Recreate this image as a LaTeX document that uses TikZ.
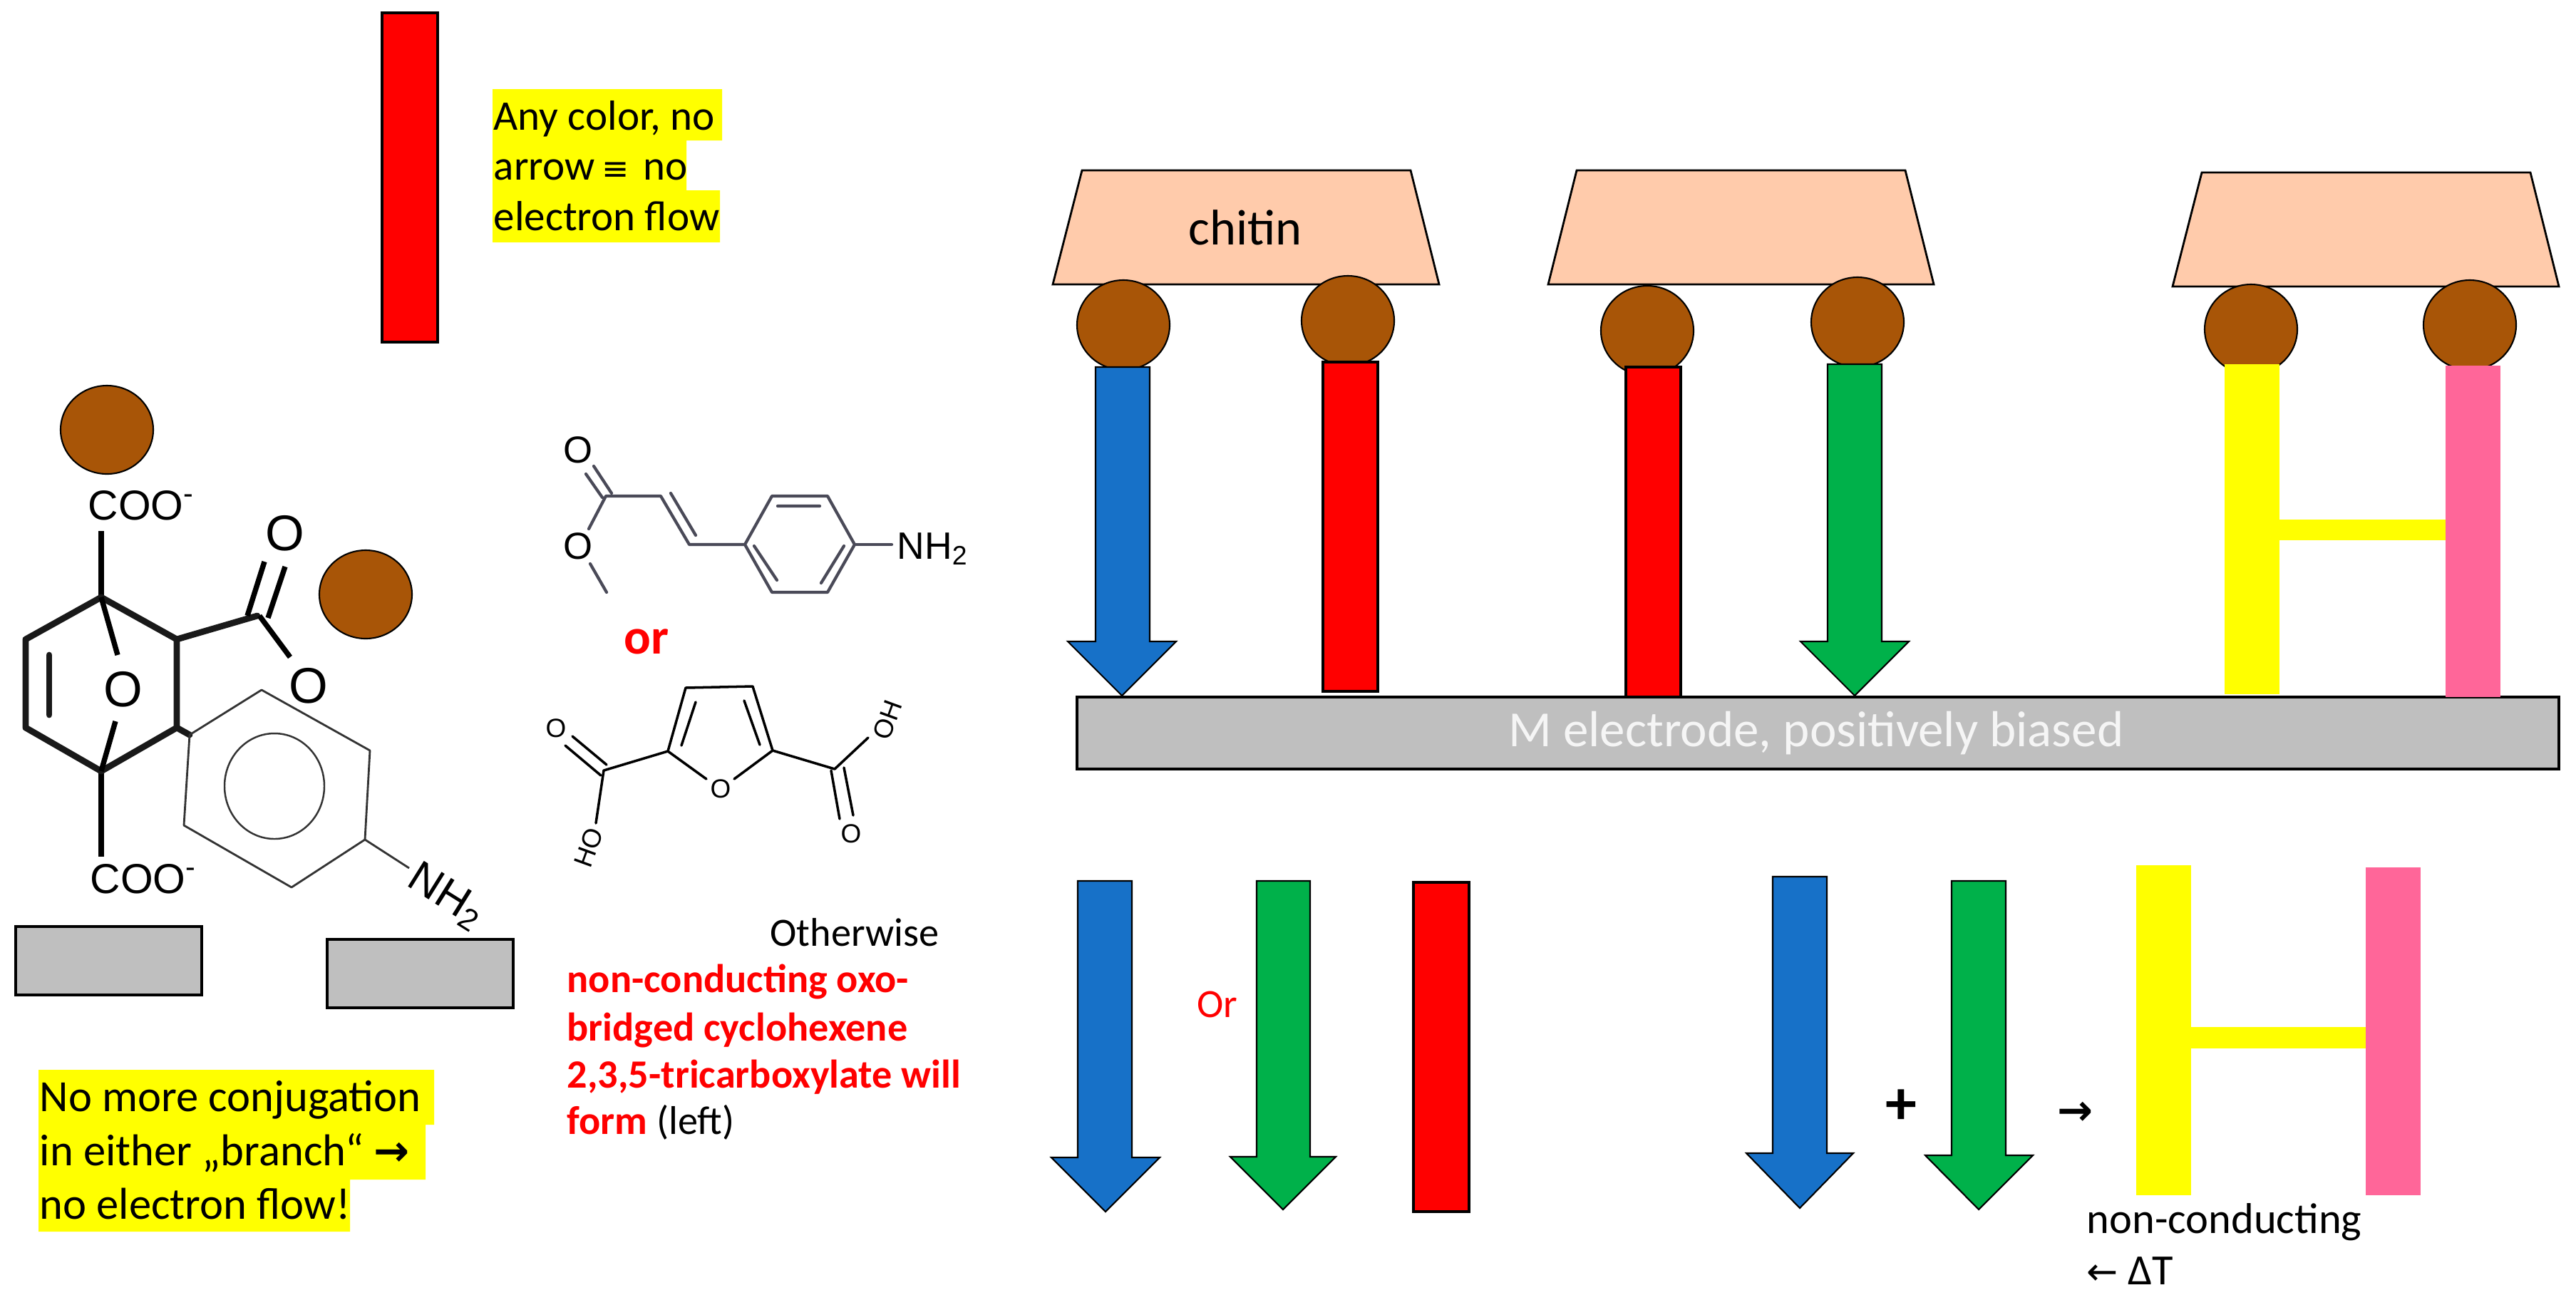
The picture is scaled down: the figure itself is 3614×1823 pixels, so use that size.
\documentclass[tikz,border=0pt]{standalone}
\usepackage{fontspec}
\setmainfont{Carlito}
\newfontfamily\chemfont{Liberation Sans}
\newfontfamily\symfont{DejaVu Sans}
\definecolor{cblue}{HTML}{1771C8}
\definecolor{cgreen}{HTML}{00B14A}
\definecolor{cbrown}{HTML}{A85507}
\definecolor{cpeach}{HTML}{FFCBAB}
\definecolor{cgray}{HTML}{BFBFBF}
\definecolor{cpink}{HTML}{FF6699}
\definecolor{cmol}{HTML}{4A4A58}
\definecolor{cyellow}{HTML}{FFFF00}
\definecolor{cred}{HTML}{FF0000}
\newcommand{\fs}[1]{\fontsize{#1}{#1}\selectfont}
\tikzset{
  x=0.01cm,y=-0.01cm,
  outl/.style={draw=black,line width=0.9pt,line join=miter},
  bead/.style={outl,fill=cbrown,line width=0.6pt},
  slab/.style={outl,fill=cpeach,line width=0.8pt},
  plate/.style={outl,fill=cgray},
  stem/.style={outl,fill=cred},
  bluearrow/.style={outl,fill=cblue,line width=0.6pt},
  greenarrow/.style={outl,fill=cgreen,line width=0.6pt},
  hl/.style={fill=cyellow,draw=none},
  txt/.style={inner sep=0pt,anchor=base west,font=\fs{16.8}},
  bigbond/.style={line width=2.5pt,line cap=round,line join=round,black!90},
  midbond/.style={line width=2.1pt,line cap=butt,black},
  thinbond/.style={line width=0.7pt,black!80},
  molA/.style={line width=1.2pt,cmol,line join=round,line cap=round},
  molB/.style={line width=1pt,black,line join=round,line cap=round},
  chem/.style={inner sep=0pt,font=\chemfont\fs{15}},
}
\newcommand{\fatarrow}[9]{\path[#1] (#2,#4) -- (#3,#4) -- (#3,#5) -- (#7,#5) -- (#8,#9) -- (#6,#5) -- (#2,#5) -- cycle;}
\begin{document}
\begin{tikzpicture}
\useasboundingbox (0,0) rectangle (3614,1823);
\fill[white] (0,0) rectangle (3614,1823);

% ---- top-left red bar and note
\path[stem,line width=1.1pt] (536,18) rectangle (614,480);
\path[hl] (691,125) rectangle (1013,197) (691,197) rectangle (963,267) (691,267) rectangle (1010,340);
\node[txt] (n1) at (692,182) {Any color, no};
\node[txt] (n2) at (692,252) {arrow\,{\symfont\fs{13}≡}\,\,no};
\node[txt] (n3) at (692,323) {electron flow};

% ---- left molecule
\path[bead] (150,603) ellipse [x radius=65,y radius=62];
\path[bead] (513,834) ellipse [x radius=65,y radius=62];
\node[inner sep=0pt,anchor=base west,font=\chemfont\fs{16.7}] (c1) at (123,729) {COO\textsuperscript{-}};
\node[inner sep=0pt,anchor=base west,font=\chemfont\fs{16.7}] (c2) at (126,1253) {COO\textsuperscript{-}};
\draw[midbond] (142,745) -- (142,838);
\draw[midbond] (142,1082) -- (142,1202);
\draw[bigbond] (142,838) -- (36,897) -- (36,1021) -- (142,1082) -- (248,1021) -- (248,897) -- cycle;
\draw[bigbond] (69,919) -- (69,1003);
\draw[midbond] (142,838) -- (165,919);
\draw[midbond] (142,1082) -- (162,1012);
\draw[bigbond] (248,897) -- (361,864);
\draw[midbond] (347,864) -- (371,788) (376,867) -- (400,795);
\draw[midbond] (364,864) -- (407,922);
\draw[bigbond] (248,1021) -- (266,1031);
\node[chem,font=\chemfont\fs{20}] (o1) at (173,967) {O};
\node[chem,font=\chemfont\fs{20}] (o2) at (400,748) {O};
\node[chem,font=\chemfont\fs{20}] (o3) at (433,962) {O};
\draw[thinbond,line width=0.8pt,line join=round] (266,1031) -- (367,968) -- (519,1053) -- (512,1178) -- (409,1245) -- (258,1158) -- cycle;
\draw[thinbond] (385,1103) ellipse [x radius=70,y radius=74];
\draw[thinbond,line width=0.8pt] (512,1178) -- (574,1218);
\node[inner sep=0pt,rotate=-32,font=\chemfont\fs{17.5}] (nh) at (626,1258) {NH\textsubscript{2}};
\path[plate] (22,1300) rectangle (283,1396);
\path[plate] (459,1318) rectangle (720,1414);

% ---- yellow note bottom-left
\path[hl] (54,1501) rectangle (609,1578) (54,1578) rectangle (597,1655) (54,1655) rectangle (491,1728);
\node[txt,font=\fs{17.8}] (n4) at (55,1559) {No more conjugation};
\node[txt,font=\fs{17.8}] (n5) at (55,1635) {in either „branch“ {\symfont\bfseries\fs{17}→}};
\node[txt,font=\fs{17.8}] (n6) at (55,1710) {no electron flow!};

% ---- molecule A (top middle)
\draw[molA] (822,665) -- (845,698) (833,654) -- (858,692);
\draw[molA] (826,742) -- (850,696) -- (927,696) -- (967,764) -- (1045,764);
\draw[molA] (941,692) -- (976,751);
\draw[molA] (828,791) -- (851,831);
\draw[molA] (1045,764) -- (1083,696) -- (1161,696) -- (1199,764) -- (1161,831) -- (1083,831) -- cycle;
\draw[molA] (1091,710) -- (1150,710) (1058,766) -- (1090,814) (1184,766) -- (1152,818);
\draw[molA] (1199,764) -- (1251,764);
\node[chem] (oa) at (811,631) {O};
\node[chem] (ob) at (811,766) {O};
\node[inner sep=0pt,anchor=base west,font=\chemfont\fs{15.2}] (nha) at (1258,784) {NH\textsubscript{2}};
\node[inner sep=0pt,anchor=base,font=\bfseries\fs{20},text=cred] (or1) at (907,917) {or};

% ---- molecule B (furan)
\draw[molB] (991,1093) -- (937,1054) -- (962,965) -- (1056,963) -- (1084,1053) -- (1030,1093);
\draw[molB] (976,985) -- (956,1046) (1044,983) -- (1066,1045);
\draw[molB] (937,1054) -- (847,1081) -- (836,1155);
\draw[molB] (803,1033) -- (851,1073) (793,1046) -- (843,1088);
\draw[molB] (1084,1053) -- (1171,1079) -- (1218,1035);
\draw[molB] (1166,1081) -- (1178,1149) (1184,1077) -- (1197,1144);
\node[chem,font=\chemfont\fs{10.5}] (oc) at (1011,1107) {O};
\node[chem,font=\chemfont\fs{10.5}] (od) at (780,1022) {O};
\node[chem,font=\chemfont\fs{10.5}] (oe) at (1194,1170) {O};
\node[chem,font=\chemfont\fs{10.5},rotate=70] (ho) at (826,1189) {HO};
\node[chem,font=\chemfont\fs{10.5},rotate=70] (oh) at (1245,1010) {OH};

% ---- red explanatory text
\node[txt,font=\fs{16}] (n7) at (1080,1327) {Otherwise};
\node[txt,font=\bfseries\fs{16},text=cred] (n8) at (795,1392) {non-conducting oxo-};
\node[txt,font=\bfseries\fs{16},text=cred] (n9) at (795,1460) {bridged cyclohexene};
\node[txt,font=\bfseries\fs{16},text=cred] (n10) at (795,1526) {2,3,5-tricarboxylate will};
\node[txt,font=\fs{16}] (n11) at (795,1591) {\textcolor{cred}{\bfseries form} (left)};

% ---- chitin slabs
\path[slab] (1518,239) -- (1979,239) -- (2019,399) -- (1477,399) -- cycle;
\path[slab] (2212,239) -- (2673,239) -- (2713,399) -- (2172,399) -- cycle;
\path[slab] (3089,242) -- (3550,242) -- (3590,402) -- (3048,402) -- cycle;
\node[inner sep=0pt,anchor=base,font=\fs{20}] (chitin) at (1747,343) {chitin};

% ---- beads
\path[bead] (1576,456) ellipse [x radius=65,y radius=63];
\path[bead] (1891,450) ellipse [x radius=65,y radius=63];
\path[bead] (2311,464) ellipse [x radius=65,y radius=63];
\path[bead] (2606,452) ellipse [x radius=65,y radius=63];
\path[bead] (3158,462) ellipse [x radius=65,y radius=63];
\path[bead] (3465,456) ellipse [x radius=65,y radius=63];

% ---- electrode
\path[plate] (1511,978) rectangle (3590,1079);
\node[inner sep=0pt,anchor=base,font=\fs{20.2},text=white!92!gray] (elec) at (2548,1047) {M electrode, positively biased};

% ---- top row stems
\fatarrow{bluearrow}{1537}{1613}{515}{900}{1498}{1650}{1574}{976}
\path[stem] (1856,508) rectangle (1933,970);
\path[stem] (2281,515) rectangle (2358,978);
\fatarrow{greenarrow}{2564}{2640}{511}{900}{2526}{2678}{2602}{976}
\fill[cpink] (3431,513) rectangle (3508,978);
\fill[cyellow] (3198,729) rectangle (3431,758);
\fill[cyellow] (3121,511) rectangle (3198,974);

% ---- bottom row
\fatarrow{bluearrow}{1512}{1588}{1236}{1624}{1475}{1627}{1551}{1700}
\fatarrow{greenarrow}{1763}{1838}{1236}{1623}{1726}{1874}{1800}{1697}
\path[stem] (1983,1238) rectangle (2061,1700);
\node[inner sep=0pt,font=\fs{16},text=cred] (or2) at (1708,1409) {Or};

\fatarrow{bluearrow}{2487}{2563}{1230}{1618}{2450}{2600}{2525}{1695}
\fatarrow{greenarrow}{2738}{2814}{1236}{1621}{2701}{2852}{2776}{1697}
\node[inner sep=0pt,font=\bfseries\fs{25}] (plus) at (2667,1553) {+};
\node[inner sep=0pt,font=\symfont\bfseries\fs{17}] (arr) at (2912,1562) {→};
\fill[cpink] (3319,1217) rectangle (3396,1677);
\fill[cyellow] (3074,1441) rectangle (3319,1471);
\fill[cyellow] (2997,1214) rectangle (3074,1677);
\node[txt,font=\fs{17.2}] (n12) at (2927,1730) {non-conducting};
\node[txt,font=\fs{17.2}] (n13) at (2927,1802) {{\symfont\fs{15}←} ΔT};
\end{tikzpicture}
\end{document}
